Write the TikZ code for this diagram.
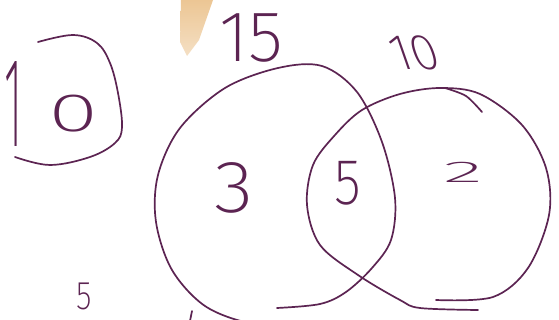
\documentclass[tikz,border=0pt]{standalone}
\usepackage{fontspec}
\usepackage{graphicx}
\IfFontExistsTF{Fira Sans ExtraLight}{\newfontfamily\hand{Fira Sans ExtraLight}}{%
  \IfFontExistsTF{Fira Sans Light}{\newfontfamily\hand{Fira Sans Light}}{\newfontfamily\hand{Fira Sans}}}
\definecolor{ink}{RGB}{92,36,82}
\definecolor{tanc}{RGB}{236,198,148}
\begin{document}
\begin{tikzpicture}[x=1pt,y=-1pt,
  ink/.style={draw=ink, line width=1.7pt, line cap=round, line join=round},
  num/.style={text=ink, inner sep=0pt, font=\hand}]
\useasboundingbox (0,0) rectangle (559,320);
\fill[white] (0,0) rectangle (559,320);
% orange highlighter stroke
\shade[top color=tanc, bottom color=tanc!55] (181,0) -- (213,0) -- (199,40) -- (187,56) -- (180,42) -- cycle;
% left circle
\draw[ink] plot[smooth, tension=0.55] coordinates {(292,321) (250,323) (205,306) (172,270) (156,222) (158,175) (180,128) (225,88) (278,68) (322,66) (357,92) (382,142) (395,198) (391,240) (372,268) (346,292) (320,304) (277,308)};
% right circle
\draw[ink] plot[smooth, tension=0.55] coordinates {(436,300) (493,297) (528,268) (549,215) (546,168) (522,125) (480,94) (440,88) (400,94) (362,110) (335,135) (313,165) (307,205) (320,245) (358,275) (400,300) (420,308) (478,310)};
\draw[ink] plot[smooth] coordinates {(445,88) (466,96) (482,112)};
% boxed 10
\draw[ink] plot[smooth, tension=0.6] coordinates {(38,42) (73,35) (97,43) (110,63) (118,93) (122,127) (115,143) (90,157) (50,165) (15,157)};
\node[num, anchor=base west] (boxten) at (4,147) {{\fontsize{128}{128}\selectfont\scalebox{0.35}[1]{1}}\hspace{26pt}\raisebox{15pt}{\fontsize{54}{54}\selectfont\scalebox{1.7}[1]{0}}};
% labels
\node[num, font={\hand\fontsize{72}{72}\selectfont}, anchor=base] (lab15) at (251,62) {15};
\node[num, font={\hand\fontsize{50}{50}\selectfont}, anchor=base, xslant=-0.35] (lab10) at (420,70) {10};
\node[num, font={\hand\fontsize{74}{74}\selectfont}, anchor=base, xscale=1.1] (three) at (234,213) {3};
\node[num, font={\hand\fontsize{65}{65}\selectfont}, anchor=base, xscale=0.85] (five) at (348,205) {5};
\node[num, font={\hand\fontsize{30}{30}\selectfont}, anchor=base, xscale=2.8] (two) at (463,183) {2};
\node[num, font={\hand\fontsize{40}{40}\selectfont}, anchor=base, xscale=0.8] (small5) at (84,309) {5};
\draw[ink] (192,311) -- (190,321);
\end{tikzpicture}
\end{document}
